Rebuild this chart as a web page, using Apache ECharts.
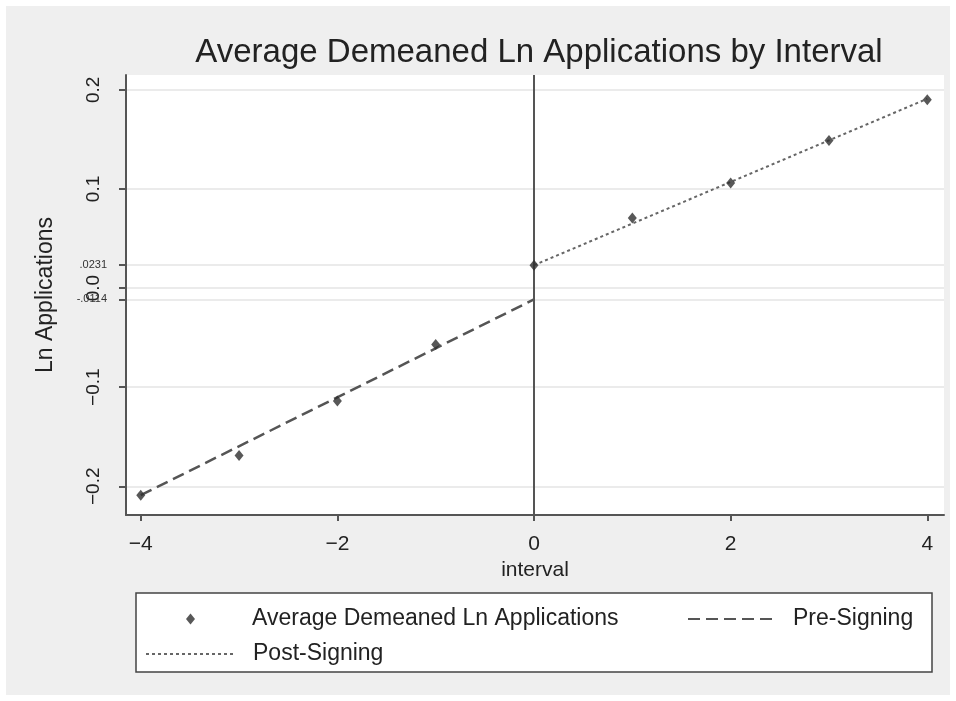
<!DOCTYPE html>
<html>
<head>
<meta charset="utf-8">
<script src="https://cdn.jsdelivr.net/npm/echarts@6/dist/echarts.min.js"></script>
<style>
  html, body { margin: 0; padding: 0; background: #fff; }
  #chart { width: 956px; height: 701px; }
</style>
</head>
<body>
<div id="chart"></div>
<script>
// values
let intervals = [-4, -3, -2, -1, 0, 1, 2, 3, 4]
let avgLnApps = [-0.209, -0.169, -0.114, -0.057, 0.0231, 0.0707, 0.106, 0.149, 0.190]
// fitted lines, end points only
let preX = [-4, 0]
let preFit = [-0.209, -0.0114]
let postX = [0, 4]
let postFit = [0.0231, 0.191]
// tick labels
let xTicks = [-4, -2, 0, 2, 4]
let yTicks = [-0.2, -0.1, 0, 0.1, 0.2]
let yMarks = [-0.0114, 0.0231]
let yMarkLabels = ["-.0114", ".0231"]

let font = "Liberation Sans, Arial, sans-serif"

function minus(s) {
    return s.replace("-", "\u2212")
}

function pairs(xs, ys) {
    return xs.map(function (x, i) {
        return [x, ys[i]]
    })
}

let chart = echarts.init(document.getElementById("chart"))

let legendText = {fontFamily: font, fontSize: 23, color: "#222", lineHeight: 24}

let option = {
    backgroundColor: "#fff",
    animation: false,
    textStyle: {fontFamily: font},
    title: {
        text: "Average Demeaned Ln Applications by Interval",
        left: 534,
        top: 31,
        textAlign: "center",
        textStyle: {fontFamily: font, fontSize: 33, fontWeight: "normal", color: "#222"}
    },
    graphic: [{
        type: "rect",
        z: -10,
        shape: {x: 6, y: 6, width: 944, height: 689},
        style: {fill: "#efefef"}
    }, {
        type: "rect",
        z: -5,
        shape: {x: 136, y: 593, width: 796, height: 79},
        style: {fill: "#fff", stroke: "#444", lineWidth: 1.5}
    }],
    grid: {
        left: 126, right: 12, top: 75, bottom: 186,
        show: true, backgroundColor: "#fff", borderWidth: 0
    },
    legend: [{
        data: [{name: "Average Demeaned Ln Applications", icon: "diamond"}],
        left: 186, top: 607, padding: 0,
        itemWidth: 9, itemHeight: 11,
        textStyle: Object.assign({padding: [0, 0, 0, 52]}, legendText)
    }, {
        data: ["Pre-Signing"],
        left: 687, top: 607, padding: 0,
        itemWidth: 88, itemHeight: 12,
        itemStyle: {opacity: 0},
        textStyle: Object.assign({padding: [0, 0, 0, 12]}, legendText)
    }, {
        data: ["Post-Signing"],
        left: 145, top: 642, padding: 0,
        itemWidth: 88, itemHeight: 12,
        itemStyle: {opacity: 0},
        textStyle: Object.assign({padding: [0, 0, 0, 14]}, legendText)
    }],
    xAxis: {
        type: "value",
        min: -4.15,
        max: 4.17,
        name: "interval",
        nameLocation: "middle",
        nameGap: 42,
        nameTextStyle: {fontFamily: font, fontSize: 21, color: "#222"},
        axisLine: {show: true, onZero: false, lineStyle: {color: "#555", width: 2}},
        axisTick: {show: true, length: 6, customValues: xTicks, lineStyle: {color: "#555", width: 2}},
        axisLabel: {
            customValues: xTicks,
            margin: 19,
            fontFamily: font, fontSize: 21, color: "#222",
            formatter: function (v) {
                return minus(String(v))
            }
        },
        splitLine: {show: false}
    },
    yAxis: [{
        type: "value",
        min: -0.229,
        max: 0.215,
        name: "Ln Applications",
        nameLocation: "middle",
        nameGap: 69,
        nameTextStyle: {fontFamily: font, fontSize: 23, color: "#222"},
        axisLine: {show: true, onZero: false, lineStyle: {color: "#555", width: 2}},
        axisTick: {show: true, length: 7, customValues: yTicks.concat(yMarks), lineStyle: {color: "#555", width: 2}},
        axisLabel: {
            customValues: yTicks,
            rotate: 90,
            margin: 23,
            fontFamily: font, fontSize: 19, color: "#222",
            formatter: function (v) {
                return minus(Number(v).toFixed(1))
            }
        },
        splitLine: {show: true, lineStyle: {color: "#ebebeb", width: 2}}
    }, {
        type: "value",
        min: -0.229,
        max: 0.215,
        position: "left",
        axisLine: {show: false},
        axisTick: {show: false},
        splitLine: {show: false},
        axisLabel: {
            customValues: yMarks,
            margin: 19,
            fontFamily: font, fontSize: 11, color: "#333",
            formatter: function (v) {
                let i = yMarks.indexOf(v)
                return i >= 0 ? yMarkLabels[i] : ""
            }
        }
    }],
    series: [{
        name: "Average Demeaned Ln Applications",
        type: "scatter",
        symbol: "diamond",
        symbolSize: [9, 11],
        z: 5,
        itemStyle: {color: "#2e2e2e"},
        data: pairs(intervals, avgLnApps),
        markLine: {
            silent: true,
            symbol: "none",
            label: {show: false},
            lineStyle: {color: "#555", width: 2, type: "solid"},
            data: [{xAxis: 0}]
        }
    }, {
        name: "Pre-Signing",
        type: "line",
        showSymbol: false,
        symbol: "none",
        lineStyle: {color: "#555", width: 2.5, type: [12, 6]},
        itemStyle: {color: "#555"},
        data: pairs(preX, preFit)
    }, {
        name: "Post-Signing",
        type: "line",
        showSymbol: false,
        symbol: "none",
        lineStyle: {color: "#666", width: 2, type: [3, 3]},
        itemStyle: {color: "#666"},
        data: pairs(postX, postFit)
    }]
}

chart.setOption(option)
</script>
</body>
</html>
